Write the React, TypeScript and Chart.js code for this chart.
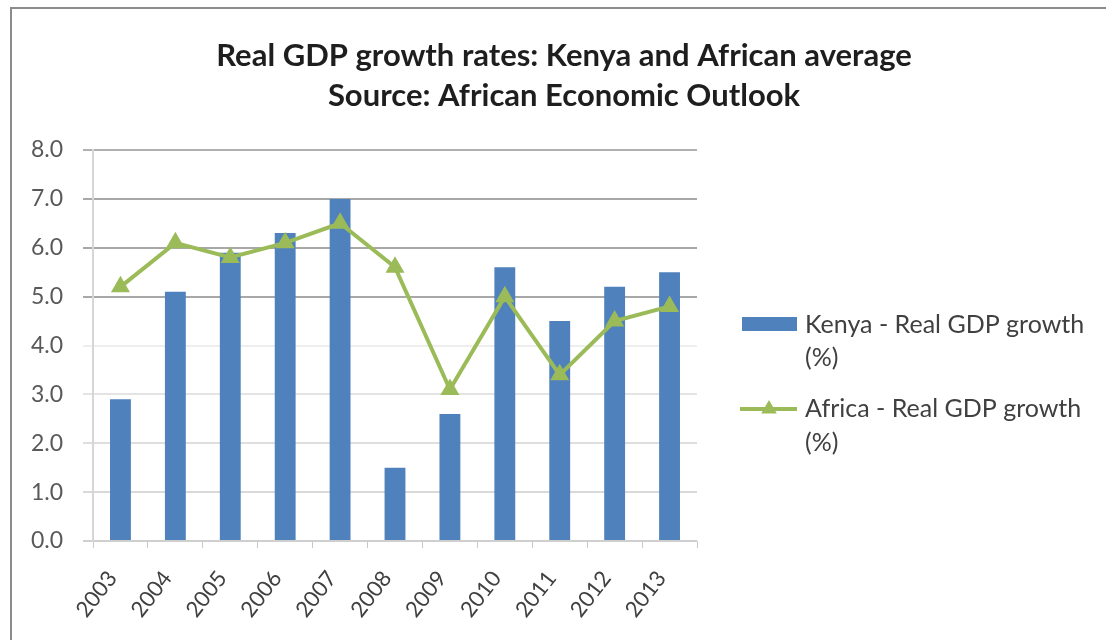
import React, { useEffect, useRef } from "react";
import { Chart, registerables } from "chart.js";

Chart.register(...registerables);

const years = ["2003", "2004", "2005", "2006", "2007", "2008", "2009", "2010", "2011", "2012", "2013"];
const kenyaGrowth = [2.9, 5.1, 5.9, 6.3, 7.0, 1.5, 2.6, 5.6, 4.5, 5.2, 5.5];
const africaGrowth = [5.2, 6.1, 5.8, 6.1, 6.5, 5.6, 3.1, 5.0, 3.4, 4.5, 4.8];
const titleLines = ["Real GDP growth rates: Kenya and African average", "Source: African Economic Outlook"];
const kenyaLegend = ["Kenya - Real GDP growth", "(%)"];
const africaLegend = ["Africa - Real GDP growth", "(%)"];
const yTicks = [0, 1, 2, 3, 4, 5, 6, 7, 8];

const BAR = "#4f81bd";
const LINE = "#9bbb59";
const FONT = "Lato, 'Open Sans', sans-serif";

const gridColors: Record<number, string> = {
  0: "#cfcfcf",
  1: "#d9d9d9",
  2: "#dedede",
  3: "#e4e4e4",
  4: "#eeeeee",
  5: "#a8a8a8",
  6: "#a8a8a8",
  7: "#a8a8a8",
  8: "#b0b0b0",
};

const decorPlugin = {
  id: "decor",
  afterDraw(chart: any) {
    const ctx = chart.ctx as CanvasRenderingContext2D;
    ctx.save();
    // title
    ctx.fillStyle = "#1e1e1e";
    ctx.font = `bold 31px ${FONT}`;
    ctx.textAlign = "center";
    ctx.textBaseline = "middle";
    ctx.fillText(titleLines[0], 564, 56);
    ctx.fillText(titleLines[1], 564, 96);

    // legend
    ctx.font = `25px ${FONT}`;
    ctx.textAlign = "left";
    ctx.fillStyle = BAR;
    ctx.fillRect(742, 317, 55, 14);
    ctx.fillStyle = "#404040";
    ctx.fillText(kenyaLegend[0], 805, 325);
    ctx.fillText(kenyaLegend[1], 805, 358);

    ctx.strokeStyle = LINE;
    ctx.lineWidth = 4;
    ctx.beginPath();
    ctx.moveTo(740, 409);
    ctx.lineTo(797, 409);
    ctx.stroke();
    ctx.fillStyle = LINE;
    const r = 9;
    const cx = 769;
    const cy = 409;
    ctx.beginPath();
    ctx.moveTo(cx, cy - r);
    ctx.lineTo(cx + r * 0.866, cy + r * 0.5);
    ctx.lineTo(cx - r * 0.866, cy + r * 0.5);
    ctx.closePath();
    ctx.fill();
    ctx.fillStyle = "#404040";
    ctx.fillText(africaLegend[0], 805, 409);
    ctx.fillText(africaLegend[1], 805, 443);
    ctx.restore();
  },
};

export default function App() {
  const ref = useRef<HTMLCanvasElement | null>(null);

  useEffect(() => {
    if (!ref.current) return;
    const chart = new Chart(ref.current, {
      type: "bar",
      data: {
        labels: years,
        datasets: [
          {
            type: "line",
            label: africaLegend.join(" "),
            data: africaGrowth,
            borderColor: LINE,
            backgroundColor: LINE,
            borderWidth: 4,
            pointStyle: "triangle",
            pointRadius: 11,
            pointBorderWidth: 0,
            pointBackgroundColor: LINE,
            tension: 0,
            order: 0,
          } as any,
          {
            type: "bar",
            label: kenyaLegend.join(" "),
            data: kenyaGrowth,
            backgroundColor: BAR,
            borderWidth: 0,
            barPercentage: 0.38,
            categoryPercentage: 1,
            order: 1,
          },
        ],
      },
      options: {
        responsive: false,
        animation: false,
        layout: { padding: { top: 150, right: 409, left: 0, bottom: 0 } },
        plugins: {
          legend: { display: false },
          title: { display: false },
          tooltip: { enabled: false },
        },
        scales: {
          x: {
            grid: {
              display: true,
              drawOnChartArea: false,
              drawTicks: true,
              tickLength: 7,
              color: "#c8c8c8",
              offset: true,
            },
            border: { display: true, color: "#cfcfcf", width: 1 },
            ticks: {
              color: "#404040",
              font: { family: FONT, size: 22 },
              minRotation: 52,
              maxRotation: 52,
              padding: 18,
              labelOffset: -8,
              autoSkip: false,
            },
            afterFit(scale: any) {
              scale.height = 99;
            },
          },
          y: {
            min: 0,
            max: 8,
            afterBuildTicks(scale: any) {
              scale.ticks = yTicks.map((v) => ({ value: v }));
            },
            grid: {
              color: (c: any) => gridColors[c.tick?.value] ?? "#d9d9d9",
              lineWidth: 2,
              tickLength: 10,
              drawTicks: true,
            },
            border: { display: true, color: "#d6d6d6", width: 2 },
            ticks: {
              color: "#595959",
              font: { family: FONT, size: 23 },
              padding: 20,
              callback: (v: any) => Number(v).toFixed(1),
            },
            afterFit(scale: any) {
              scale.width = 93;
            },
          },
        },
      },
      plugins: [decorPlugin],
    });
    return () => chart.destroy();
  }, []);

  return (
    <div style={{ position: "absolute", left: 0, top: 0, width: 1106, height: 640, overflow: "hidden", background: "#fff" }}>
      <div
        style={{
          position: "absolute",
          left: 10,
          top: 7,
          width: 1200,
          height: 800,
          border: "2px solid #8c8c8c",
          boxSizing: "border-box",
        }}
      />
      <canvas ref={ref} width={1106} height={640} style={{ position: "absolute", left: 0, top: 0 }} />
    </div>
  );
}
